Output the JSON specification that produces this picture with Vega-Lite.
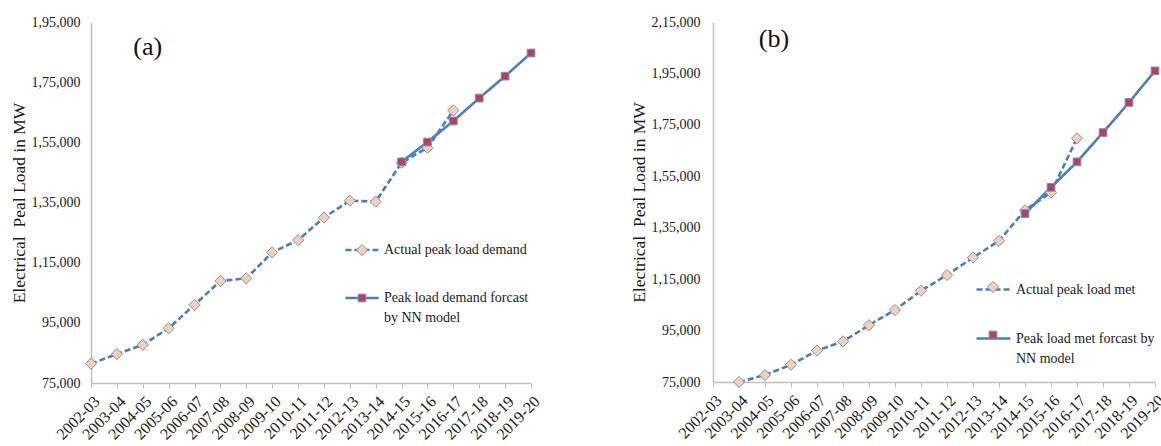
{
  "$schema": "https://vega.github.io/schema/vega-lite/v6.json",
  "padding": {"left": 10, "top": 15, "right": 0, "bottom": 0},
  "background": "white",
  "datasets": {
    "a": [
      {"period": "2002-03", "series": "Actual peak load demand", "value": 81400},
      {"period": "2003-04", "series": "Actual peak load demand", "value": 84600},
      {"period": "2004-05", "series": "Actual peak load demand", "value": 87700},
      {"period": "2005-06", "series": "Actual peak load demand", "value": 93200},
      {"period": "2006-07", "series": "Actual peak load demand", "value": 101000},
      {"period": "2007-08", "series": "Actual peak load demand", "value": 108900},
      {"period": "2008-09", "series": "Actual peak load demand", "value": 109800},
      {"period": "2009-10", "series": "Actual peak load demand", "value": 118400},
      {"period": "2010-11", "series": "Actual peak load demand", "value": 122500},
      {"period": "2011-12", "series": "Actual peak load demand", "value": 130000},
      {"period": "2012-13", "series": "Actual peak load demand", "value": 135600},
      {"period": "2013-14", "series": "Actual peak load demand", "value": 135300},
      {"period": "2014-15", "series": "Actual peak load demand", "value": 148200},
      {"period": "2015-16", "series": "Actual peak load demand", "value": 153200},
      {"period": "2016-17", "series": "Actual peak load demand", "value": 165600},
      {"period": "2014-15", "series": "Peak load demand forcast by NN model", "value": 148500},
      {"period": "2015-16", "series": "Peak load demand forcast by NN model", "value": 155100},
      {"period": "2016-17", "series": "Peak load demand forcast by NN model", "value": 162100},
      {"period": "2017-18", "series": "Peak load demand forcast by NN model", "value": 169700},
      {"period": "2018-19", "series": "Peak load demand forcast by NN model", "value": 177000},
      {"period": "2019-20", "series": "Peak load demand forcast by NN model", "value": 184700}
    ],
    "b": [
      {"period": "2003-04", "series": "Actual peak load met", "value": 75000},
      {"period": "2004-05", "series": "Actual peak load met", "value": 77700},
      {"period": "2005-06", "series": "Actual peak load met", "value": 81700},
      {"period": "2006-07", "series": "Actual peak load met", "value": 87200},
      {"period": "2007-08", "series": "Actual peak load met", "value": 90800},
      {"period": "2008-09", "series": "Actual peak load met", "value": 97100},
      {"period": "2009-10", "series": "Actual peak load met", "value": 103000},
      {"period": "2010-11", "series": "Actual peak load met", "value": 110500},
      {"period": "2011-12", "series": "Actual peak load met", "value": 116600},
      {"period": "2012-13", "series": "Actual peak load met", "value": 123400},
      {"period": "2013-14", "series": "Actual peak load met", "value": 129900},
      {"period": "2014-15", "series": "Actual peak load met", "value": 141800},
      {"period": "2015-16", "series": "Actual peak load met", "value": 148700},
      {"period": "2016-17", "series": "Actual peak load met", "value": 169800},
      {"period": "2014-15", "series": "Peak load met forcast by NN model", "value": 140500},
      {"period": "2015-16", "series": "Peak load met forcast by NN model", "value": 150700},
      {"period": "2016-17", "series": "Peak load met forcast by NN model", "value": 160600},
      {"period": "2017-18", "series": "Peak load met forcast by NN model", "value": 172000},
      {"period": "2018-19", "series": "Peak load met forcast by NN model", "value": 183700},
      {"period": "2019-20", "series": "Peak load met forcast by NN model", "value": 196000}
    ]
  },
  "hconcat": [
    {
      "width": 440,
      "height": 361,
      "layer": [
        {
          "data": {"name": "a"},
          "mark": {"type": "line", "stroke": "#4a7ebb", "strokeWidth": 2.6},
          "encoding": {
            "x": {"field": "period", "type": "ordinal", "scale": {"type": "point", "padding": 0, "domain": ["2002-03","2003-04","2004-05","2005-06","2006-07","2007-08","2008-09","2009-10","2010-11","2011-12","2012-13","2013-14","2014-15","2015-16","2016-17","2017-18","2018-19","2019-20"]}, "axis": {"title": null}},
            "y": {"field": "value", "type": "quantitative", "scale": {"domain": [75000, 195000], "nice": false, "zero": false}, "axis": {"values": [75000, 95000, 115000, 135000, 155000, 175000, 195000], "title": "Electrical\u00a0 Peal Load in MW"}},
            "strokeDash": {"field": "series", "type": "nominal", "scale": {"domain": ["Actual peak load demand", "Peak load demand forcast by NN model"], "range": [[6, 3], [1, 0]]},
              "legend": {"orient": "none", "legendX": 253, "legendY": 210, "title": null, "symbolType": "stroke", "symbolSize": 1100, "symbolStrokeColor": "#4a7ebb", "symbolStrokeWidth": 2.5, "labelOffset": 4, "rowPadding": 23, "padding": 0,
                "labelExpr": "datum.label == 'Peak load demand forcast by NN model' ? ['Peak load demand forcast', 'by NN model'] : datum.label"}}
          }
        },
        {
          "data": {"name": "a"},
          "mark": {"type": "point", "filled": true, "opacity": 1, "stroke": "#7a93c4", "strokeWidth": 1},
          "encoding": {
            "x": {"field": "period", "type": "ordinal"},
            "y": {"field": "value", "type": "quantitative"},
            "shape": {"field": "series", "type": "nominal", "scale": {"range": ["diamond", "square"]},
              "legend": {"orient": "none", "legendX": 264, "legendY": 221, "title": null, "symbolStrokeColor": "#7a93c4", "symbolStrokeWidth": 1, "labelOffset": 4, "rowPadding": 33, "padding": 0,
                "labelExpr": "datum.label == 'Peak load demand forcast by NN model' ? [' ', ' '] : ' '"}},
            "fill": {"field": "series", "type": "nominal", "scale": {"range": ["#f5d0b2", "#b3425c"]}},
            "size": {"field": "series", "type": "nominal", "scale": {"range": [125, 60]}}
          }
        },
        {
          "data": {"values": [{"period": "2004-05", "value": 186700, "label": "(a)"}]},
          "mark": {"type": "text", "fontSize": 26, "align": "center", "baseline": "middle", "dx": 5, "color": "#111"},
          "encoding": {
            "x": {"field": "period", "type": "ordinal"},
            "y": {"field": "value", "type": "quantitative"},
            "text": {"field": "label"}
          }
        }
      ]
    },
    {
      "width": 442,
      "height": 360,
      "layer": [
        {
          "data": {"name": "b"},
          "mark": {"type": "line", "stroke": "#4a7ebb", "strokeWidth": 2.6},
          "encoding": {
            "x": {"field": "period", "type": "ordinal", "scale": {"type": "point", "padding": 0, "domain": ["2002-03","2003-04","2004-05","2005-06","2006-07","2007-08","2008-09","2009-10","2010-11","2011-12","2012-13","2013-14","2014-15","2015-16","2016-17","2017-18","2018-19","2019-20"]}, "axis": {"title": null}},
            "y": {"field": "value", "type": "quantitative", "scale": {"domain": [75000, 215000], "nice": false, "zero": false}, "axis": {"values": [75000, 95000, 115000, 135000, 155000, 175000, 195000, 215000], "title": "Electrical\u00a0 Peal Load in MW", "labelPadding": 13}},
            "strokeDash": {"field": "series", "type": "nominal", "scale": {"domain": ["Actual peak load met", "Peak load met forcast by NN model"], "range": [[6, 3], [1, 0]]},
              "legend": {"orient": "none", "legendX": 262, "legendY": 249, "title": null, "symbolType": "stroke", "symbolSize": 1150, "symbolStrokeColor": "#4a7ebb", "symbolStrokeWidth": 2.5, "labelOffset": 4, "rowPadding": 23, "padding": 0,
                "labelExpr": "datum.label == 'Peak load met forcast by NN model' ? ['Peak load met forcast by', 'NN model'] : datum.label"}}
          }
        },
        {
          "data": {"name": "b"},
          "mark": {"type": "point", "filled": true, "opacity": 1, "stroke": "#7a93c4", "strokeWidth": 1},
          "encoding": {
            "x": {"field": "period", "type": "ordinal"},
            "y": {"field": "value", "type": "quantitative"},
            "shape": {"field": "series", "type": "nominal", "scale": {"range": ["diamond", "square"]},
              "legend": {"orient": "none", "legendX": 273, "legendY": 258, "title": null, "symbolStrokeColor": "#7a93c4", "symbolStrokeWidth": 1, "labelOffset": 4, "rowPadding": 33, "padding": 0,
                "labelExpr": "datum.label == 'Peak load met forcast by NN model' ? [' ', ' '] : ' '"}},
            "fill": {"field": "series", "type": "nominal", "scale": {"range": ["#f5d0b2", "#b3425c"]}},
            "size": {"field": "series", "type": "nominal", "scale": {"range": [125, 60]}}
          }
        },
        {
          "data": {"values": [{"period": "2004-05", "value": 208300, "label": "(b)"}]},
          "mark": {"type": "text", "fontSize": 26, "align": "center", "baseline": "middle", "dx": 9, "color": "#111"},
          "encoding": {
            "x": {"field": "period", "type": "ordinal"},
            "y": {"field": "value", "type": "quantitative"},
            "text": {"field": "label"}
          }
        }
      ]
    }
  ],
  "spacing": 87,
  "resolve": {"scale": {"x": "independent", "y": "independent", "shape": "independent", "fill": "independent", "size": "independent", "strokeDash": "independent"}, "legend": {"shape": "independent", "fill": "independent", "size": "independent", "strokeDash": "independent"}},
  "config": {
    "font": "Liberation Serif",
    "view": {"stroke": null},
    "style": {"guide-label": {"lineHeight": 20}},
    "legend": {"labelFont": "Liberation Serif", "labelFontSize": 14, "labelColor": "#1a1a1a", "labelLimit": 300},
    "axis": {"grid": false, "domainColor": "#bfbfbf", "domainWidth": 1.5, "labelFont": "Liberation Serif", "labelFontSize": 14, "labelColor": "#1a1a1a", "titleFont": "Liberation Serif", "titleColor": "#1a1a1a", "titleFontWeight": "normal"},
    "axisX": {"labelAngle": -45, "tickColor": "#bfbfbf", "tickSize": 5, "labelPadding": 5, "labelFontSize": 16},
    "axisY": {"ticks": false, "labelPadding": 11, "titleFontSize": 17.5, "titlePadding": 3,
      "labelExpr": "datum.value >= 100000 ? floor(datum.value / 100000) + ',' + format(datum.value % 100000, ',') : format(datum.value, ',')"}
  }
}
